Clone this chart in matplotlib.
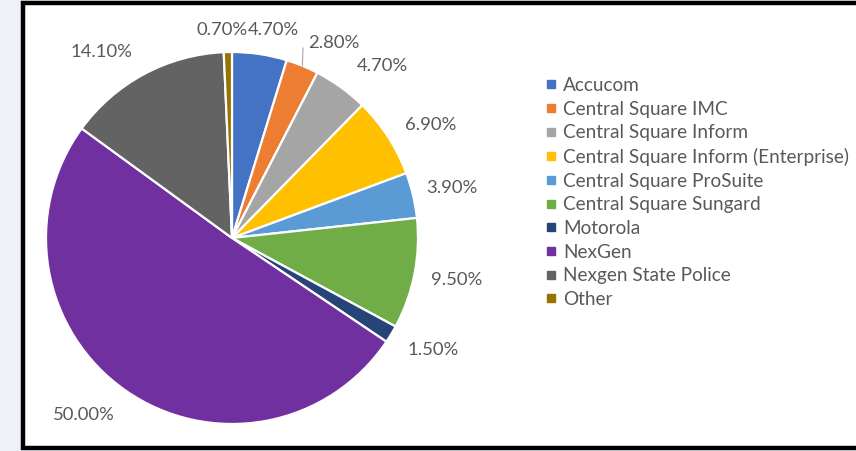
import matplotlib
matplotlib.use("Agg")
import matplotlib.pyplot as plt
import numpy as np
from matplotlib.patches import Rectangle
from matplotlib.lines import Line2D

categories = ["Accucom", "Central Square IMC", "Central Square Inform",
              "Central Square Inform (Enterprise)", "Central Square ProSuite",
              "Central Square Sungard", "Motorola", "NexGen",
              "Nexgen State Police", "Other"]
values = [4.7, 2.8, 4.7, 6.9, 3.9, 9.5, 1.5, 50.0, 14.1, 0.7]
labels = ["4.70%", "2.80%", "4.70%", "6.90%", "3.90%", "9.50%", "1.50%",
          "50.00%", "14.10%", "0.70%"]
colors = ["#4472C4", "#ED7D31", "#A5A5A5", "#FFC000", "#5B9BD5",
          "#70AD47", "#264478", "#7030A0", "#636363", "#997300"]

# label placement: (radial factor, angular nudge in degrees)
label_r = [1.14, 1.18, 1.23, 1.23, 1.21, 1.23, 1.24, 1.24, 1.22, 1.12]
label_da = [-2.6, -5.3, -5.3, -3.3, -0.5, 0.5, 2.0, -5.0, 6.7, 1.5]

W, H = 856, 451
fig = plt.figure(figsize=(W / 100, H / 100), dpi=100, facecolor="#eef2f8")

# chart frame
fig.patches.append(Rectangle((23 / W, 3 / H), (W + 10 - 23) / W, (448 - 3) / H,
                             transform=fig.transFigure, facecolor="white",
                             edgecolor="black", linewidth=3.2, zorder=-5))

cx, cy, R = 232, H - 238, 186
half = 220
ax = fig.add_axes([(cx - half) / W, (cy - half) / H, 2 * half / W, 2 * half / H])
ax.set_zorder(2)
ax.set_axis_off()
wedges, _ = ax.pie(values, colors=colors, startangle=90, counterclock=False,
                   radius=1.0, wedgeprops=dict(edgecolor="white", linewidth=1.6))
L = half / R
ax.set_xlim(-L, L)
ax.set_ylim(-L, L)

font = "Lato"
for w, lab, rf, da in zip(wedges, labels, label_r, label_da):
    mid = np.deg2rad((w.theta1 + w.theta2) / 2 + da)
    x, y = rf * np.cos(mid), rf * np.sin(mid)
    ax.text(x, y, lab, ha="center", va="center", fontsize=13.3, color="#595959",
            family=font, clip_on=False)

# leader line for the 2.80% label
w = wedges[1]
m = np.deg2rad((w.theta1 + w.theta2) / 2)
ax.plot([np.cos(m), 1.09 * np.cos(m + 0.03)], [np.sin(m), 1.09 * np.sin(m + 0.03)],
        color="#A6A6A6", linewidth=0.8, clip_on=False)

handles = [Line2D([], [], marker="s", linestyle="none", markersize=6,
                  markerfacecolor=c, markeredgecolor=c) for c in colors]
leg = fig.legend(handles, categories, loc="upper left",
                 bbox_to_anchor=(545 / W, 1 - 77 / H), frameon=False,
                 prop=dict(family=font, size=13.7), labelcolor="#595959",
                 handlelength=0.6, handletextpad=0.35, labelspacing=0.35,
                 borderpad=0, borderaxespad=0)
leg.set_zorder(3)

fig.savefig("out.png", dpi=100, facecolor=fig.get_facecolor())
